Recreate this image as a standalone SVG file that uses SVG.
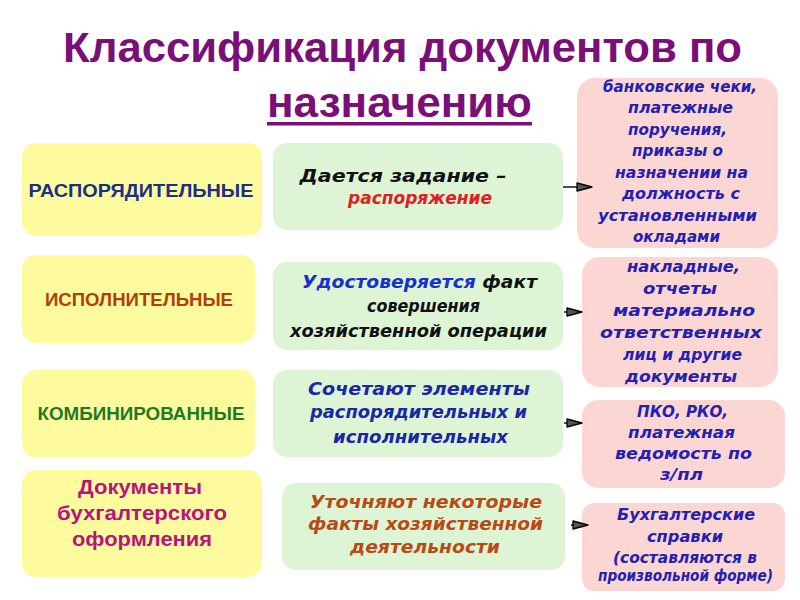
<svg xmlns="http://www.w3.org/2000/svg" width="800" height="600" viewBox="0 0 800 600">
<defs>
<style>
.t{font-family:"Liberation Sans",Arial,sans-serif;font-weight:bold;text-anchor:middle}
.title{font-size:43px;fill:#7a0f78}
.y{fill:#fdfb9e}
.g{fill:#ddf5d5}
.p{fill:#fcd6d2}
.cat{font-size:18.5px}
.doc{font-size:21px;fill:#b8157a}
.mid{font-family:"DejaVu Sans",Verdana,sans-serif;font-size:17px;font-style:italic;font-weight:bold;text-anchor:middle}
.pk{font-family:"DejaVu Sans",Verdana,sans-serif;font-size:16px;font-style:italic;font-weight:bold;text-anchor:middle;fill:#2420b2}
.conn{stroke:#000;stroke-width:1.4;fill:none;marker-end:url(#ah)}
</style>
<marker id="ah" viewBox="0 0 17 10" refX="16" refY="5" markerWidth="17" markerHeight="10" orient="auto" markerUnits="userSpaceOnUse">
<path d="M1,1 L16,5 L1,9 Z" fill="#555" stroke="#000" stroke-width="1.3" stroke-linejoin="round"/>
</marker>
</defs>
<rect width="800" height="600" fill="#fff"/>
<g id="title">
<text class="t title" x="402.5" y="62" textLength="679" lengthAdjust="spacingAndGlyphs">Классификация документов по</text>
<text class="t title" x="399.5" y="117" textLength="265" lengthAdjust="spacingAndGlyphs">назначению</text>
<rect x="267" y="122" width="265" height="3.5" fill="#7a0f78"/>
</g>
<g id="cat1"><rect class="y" x="22" y="143" width="240" height="93" rx="14"/>
<text class="t cat" x="141" y="197" fill="#1c2f85" textLength="225" lengthAdjust="spacingAndGlyphs">РАСПОРЯДИТЕЛЬНЫЕ</text></g>
<g id="cat2"><rect class="y" x="22" y="255" width="233" height="88" rx="14"/>
<text class="t cat" x="139" y="306" fill="#b0400a" textLength="188" lengthAdjust="spacingAndGlyphs">ИСПОЛНИТЕЛЬНЫЕ</text></g>
<g id="cat3"><rect class="y" x="22" y="370" width="233" height="87" rx="14"/>
<text class="t cat" x="141" y="420" fill="#1f7a1f" textLength="207" lengthAdjust="spacingAndGlyphs">КОМБИНИРОВАННЫЕ</text></g>
<g id="cat4"><rect class="y" x="22" y="470" width="240" height="107" rx="14"/>
<text class="t doc" x="140" y="494" textLength="124" lengthAdjust="spacingAndGlyphs">Документы</text>
<text class="t doc" x="142" y="520" textLength="170" lengthAdjust="spacingAndGlyphs">бухгалтерского</text>
<text class="t doc" x="142" y="546" textLength="140" lengthAdjust="spacingAndGlyphs">оформления</text></g>

<g id="desc1"><rect class="g" x="273" y="143" width="290" height="87" rx="14"/>
<text class="mid" x="403" y="182" fill="#111" textLength="207" lengthAdjust="spacingAndGlyphs">Дается задание –</text>
<text class="mid" x="420" y="204" fill="#e02020" textLength="144" lengthAdjust="spacingAndGlyphs">распоряжение</text></g>
<g id="desc2"><rect class="g" x="273" y="262" width="290" height="88" rx="14"/>
<text class="mid" x="419.5" y="288" textLength="235" lengthAdjust="spacingAndGlyphs"><tspan fill="#1830d0">Удостоверяется</tspan><tspan fill="#111"> факт</tspan></text>
<text class="mid" x="423.5" y="312" fill="#111" textLength="113" lengthAdjust="spacingAndGlyphs">совершения</text>
<text class="mid" x="418.5" y="337" fill="#111" textLength="257" lengthAdjust="spacingAndGlyphs">хозяйственной операции</text></g>
<g id="desc3"><rect class="g" x="273" y="370" width="290" height="87" rx="14"/>
<text class="mid" x="419" y="395" fill="#1a28a8" textLength="222" lengthAdjust="spacingAndGlyphs">Сочетают элементы</text>
<text class="mid" x="418.5" y="418" fill="#1a28a8" textLength="217" lengthAdjust="spacingAndGlyphs">распорядительных и</text>
<text class="mid" x="420.5" y="443" fill="#1a28a8" textLength="175" lengthAdjust="spacingAndGlyphs">исполнительных</text></g>
<g id="desc4"><rect class="g" x="282" y="483" width="283" height="87" rx="14"/>
<text class="mid" x="426" y="508" fill="#b84a18" textLength="232" lengthAdjust="spacingAndGlyphs">Уточняют некоторые</text>
<text class="mid" x="425.5" y="530" fill="#b84a18" textLength="235" lengthAdjust="spacingAndGlyphs">факты хозяйственной</text>
<text class="mid" x="425" y="553" fill="#b84a18" textLength="150" lengthAdjust="spacingAndGlyphs">деятельности</text></g>

<g id="ex1"><rect class="p" x="577" y="78" width="201" height="170" rx="18"/>
<text class="pk" x="680" y="92" textLength="154" lengthAdjust="spacingAndGlyphs">банковские чеки,</text>
<text class="pk" x="680.5" y="113.4" textLength="105" lengthAdjust="spacingAndGlyphs">платежные</text>
<text class="pk" x="677.5" y="134.9" textLength="99" lengthAdjust="spacingAndGlyphs">поручения,</text>
<text class="pk" x="677.5" y="156.3" textLength="91" lengthAdjust="spacingAndGlyphs">приказы о</text>
<text class="pk" x="681.5" y="177.7" textLength="133" lengthAdjust="spacingAndGlyphs">назначении на</text>
<text class="pk" x="681" y="199.1" textLength="118" lengthAdjust="spacingAndGlyphs">должность с</text>
<text class="pk" x="677.5" y="220.6" textLength="159" lengthAdjust="spacingAndGlyphs">установленными</text>
<text class="pk" x="676.5" y="242" textLength="87" lengthAdjust="spacingAndGlyphs">окладами</text></g>
<g id="ex2"><rect class="p" x="582" y="257" width="196" height="130" rx="18"/>
<text class="pk" x="683.5" y="272" textLength="113" lengthAdjust="spacingAndGlyphs">накладные,</text>
<text class="pk" x="680" y="294" textLength="74" lengthAdjust="spacingAndGlyphs">отчеты</text>
<text class="pk" x="684" y="316" textLength="142" lengthAdjust="spacingAndGlyphs">материально</text>
<text class="pk" x="681" y="338" textLength="162" lengthAdjust="spacingAndGlyphs">ответственных</text>
<text class="pk" x="682.5" y="360" textLength="119" lengthAdjust="spacingAndGlyphs">лиц и другие</text>
<text class="pk" x="681" y="382" textLength="112" lengthAdjust="spacingAndGlyphs">документы</text></g>
<g id="ex3"><rect class="p" x="582" y="400" width="203" height="88" rx="16"/>
<text class="pk" font-size="17" x="682.5" y="417" textLength="91" lengthAdjust="spacingAndGlyphs">ПКО, РКО,</text>
<text class="pk" font-size="17" x="681.5" y="438" textLength="107" lengthAdjust="spacingAndGlyphs">платежная</text>
<text class="pk" font-size="17" x="683.5" y="459" textLength="137" lengthAdjust="spacingAndGlyphs">ведомость по</text>
<text class="pk" font-size="17" x="681.5" y="480" textLength="43" lengthAdjust="spacingAndGlyphs">з/пл</text></g>
<g id="ex4"><rect class="p" x="582" y="503" width="203" height="88" rx="12"/>
<text class="pk" font-size="17" x="686" y="520" textLength="138" lengthAdjust="spacingAndGlyphs">Бухгалтерские</text>
<text class="pk" font-size="17" x="685" y="542" textLength="76" lengthAdjust="spacingAndGlyphs">справки</text>
<text class="pk" font-size="12.5" x="685" y="563" textLength="144" lengthAdjust="spacingAndGlyphs">(составляются в</text>
<text class="pk" font-size="12.5" x="685.5" y="581" textLength="175" lengthAdjust="spacingAndGlyphs">произвольной форме)</text></g>

<g id="connectors">
<path class="conn" d="M563,187 H592"/>
<path class="conn" d="M564,312 H582"/>
<path class="conn" d="M564,423 H582"/>
<path class="conn" d="M571,525 H588"/>
</g>
</svg>
